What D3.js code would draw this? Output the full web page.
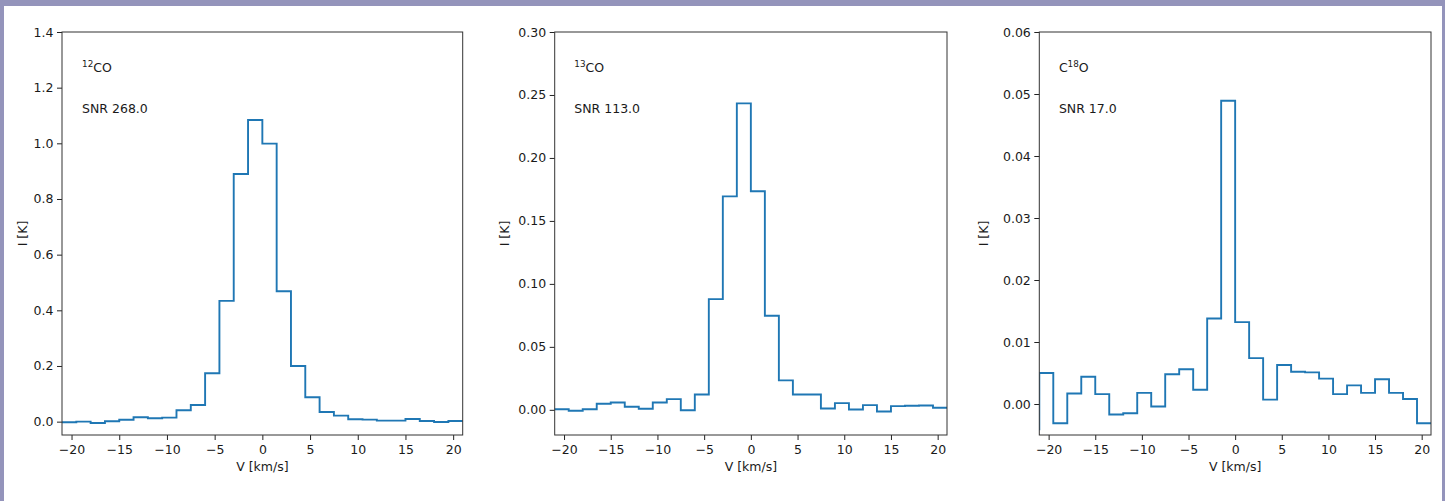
<!DOCTYPE html>
<html>
<head>
<meta charset="utf-8">
<script src="https://cdn.jsdelivr.net/npm/d3@7"></script>
<style>
body{margin:0;background:#9494bb;}
svg{display:block}
text{font-family:"DejaVu Sans",sans-serif;fill:#1a1a1a}
</style>
</head>
<body>
<svg id="fig" width="1445" height="501"></svg>
<script>
// channel centres (km/s), 1.5 km/s channels
const velocity = [-21.75, -20.25, -18.75, -17.25, -15.75, -14.25, -12.75, -11.25, -9.75, -8.25,
                  -6.75, -5.25, -3.75, -2.25, -0.75, 0.75, 2.25, 3.75, 5.25, 6.75,
                  8.25, 9.75, 11.25, 12.75, 14.25, 15.75, 17.25, 18.75, 20.25, 21.75]

const co12 = [-0.002, -0.0024, 0.000, -0.005, 0.0012, 0.007, 0.0156, 0.012, 0.0144, 0.0407,
              0.060, 0.174, 0.434, 0.890, 1.084, 0.999, 0.4685, 0.200, 0.0874, 0.0347,
              0.0216, 0.0084, 0.0072, 0.0036, 0.0036, 0.0096, 0.0024, -0.0012, 0.0024, 0.002]

const co13 = [0.0005, 0.0005, -0.0008, 0.0005, 0.0048, 0.0058, 0.0024, 0.0008, 0.0058, 0.0085,
              -0.0003, 0.0122, 0.0879, 0.1695, 0.2433, 0.1735, 0.0747, 0.0234, 0.0122, 0.0122,
              0.0011, 0.0053, 0.0003, 0.0037, -0.0013, 0.0029, 0.0032, 0.0034, 0.0016, 0.0015]

const c18o = [-0.0041, 0.0050, -0.0031, 0.0017, 0.0044, 0.0016, -0.0017, -0.0015, 0.0018, -0.0004,
              0.0048, 0.0056, 0.0023, 0.0138, 0.0489, 0.0132, 0.0074, 0.0007, 0.0063, 0.0052,
              0.0051, 0.0041, 0.0016, 0.0030, 0.0018, 0.0040, 0.0018, 0.0008, -0.0031, -0.0031]

// species labels: [text, superscript?]
const species = [
    [["12", true], ["CO", false]],
    [["13", true], ["CO", false]],
    [["C", false], ["18", true], ["O", false]]
]
const snr = ["268.0", "113.0", "17.0"]

const xTicks = [-20, -15, -10, -5, 0, 5, 10, 15, 20]
const yTicks12 = [0, 0.2, 0.4, 0.6, 0.8, 1.0, 1.2, 1.4]
const yTicks13 = [0, 0.05, 0.10, 0.15, 0.20, 0.25, 0.30]
const yTicks18 = [0, 0.01, 0.02, 0.03, 0.04, 0.05, 0.06]

const xDomain = [-21, 21]
const yDomains = [[-0.048, 1.4], [-0.02, 0.30], [-0.005, 0.06]]

// layout of each axes box in pixels
const axTop = 32, axBottom = 435
const boxes = [
    {left: 62, right: 462.7, ylabX: 22.5, fmt: ".1f"},
    {left: 554.7, right: 947, ylabX: 504, fmt: ".2f"},
    {left: 1039.3, right: 1431, ylabX: 983, fmt: ".2f"}
]
const series = [co12, co13, c18o]
const yTicks = [yTicks12, yTicks13, yTicks18]

let svg = d3.select("#fig")
svg.append("rect").attr("x", 4).attr("y", 6).attr("width", 1438).attr("height", 495).attr("fill", "#fff")

boxes.forEach(function (b, k) {
    let xScale = d3.scaleLinear().domain(xDomain).range([b.left, b.right])
    let yScale = d3.scaleLinear().domain(yDomains[k]).range([axBottom, axTop])

    let ax = svg.append("g")

    ax.append("clipPath").attr("id", `clip${k}`)
        .append("rect")
        .attr("x", b.left).attr("y", axTop)
        .attr("width", b.right - b.left).attr("height", axBottom - axTop)

    // step line (steps-mid)
    let line = d3.line()
        .x(function (d, i) { return xScale(velocity[i]) })
        .y(function (d) { return yScale(d) })
        .curve(d3.curveStep)

    ax.append("path")
        .datum(series[k])
        .attr("d", line)
        .attr("clip-path", `url(#clip${k})`)
        .attr("fill", "none")
        .attr("stroke", "#1f77b4")
        .attr("stroke-width", 1.9)
        .attr("stroke-linejoin", "miter")

    // axes
    let xAxis = d3.axisBottom(xScale).tickValues(xTicks).tickSize(5).tickPadding(5)
        .tickFormat(d3.format("d"))
    let yAxis = d3.axisLeft(yScale).tickValues(yTicks[k]).tickSize(5).tickPadding(3.5)
        .tickFormat(d3.format(b.fmt))

    let gx = ax.append("g").attr("transform", `translate(0,${axBottom})`).call(xAxis)
    let gy = ax.append("g").attr("transform", `translate(${b.left},0)`).call(yAxis)
    ;[gx, gy].forEach(function (g) {
        g.select(".domain").remove()
        g.selectAll("line").attr("stroke", "#222").attr("stroke-width", 1)
        g.selectAll("text").attr("font-size", "12.5px")
            .attr("font-family", '"DejaVu Sans",sans-serif').attr("fill", "#1a1a1a")
    })

    // frame
    ax.append("rect")
        .attr("x", b.left).attr("y", axTop)
        .attr("width", b.right - b.left).attr("height", axBottom - axTop)
        .attr("fill", "none").attr("stroke", "#333").attr("stroke-width", 1)

    // labels
    ax.append("text")
        .attr("x", (b.left + b.right) / 2).attr("y", 471)
        .attr("text-anchor", "middle").attr("font-size", "12.5px")
        .text("V [km/s]")

    ax.append("text")
        .attr("transform", `translate(${b.ylabX},${(axTop + axBottom) / 2}) rotate(-90)`)
        .attr("text-anchor", "middle").attr("dominant-baseline", "central")
        .attr("font-size", "12.5px")
        .text("I [K]")

    // annotations
    let tx = b.left + 0.05 * (b.right - b.left)
    let t = ax.append("text")
        .attr("x", tx).attr("y", axBottom - 0.9 * (axBottom - axTop))
        .attr("font-size", "12.5px")
    species[k].forEach(function (p) {
        if (p[1]) {
            t.append("tspan").attr("font-size", "8.8px").attr("baseline-shift", "5px").text(p[0])
        } else {
            t.append("tspan").attr("baseline-shift", "0").text(p[0])
        }
    })

    ax.append("text")
        .attr("x", tx).attr("y", axBottom - 0.8 * (axBottom - axTop))
        .attr("font-size", "12.5px")
        .text(`SNR ${snr[k]}`)
})
</script>
</body>
</html>
